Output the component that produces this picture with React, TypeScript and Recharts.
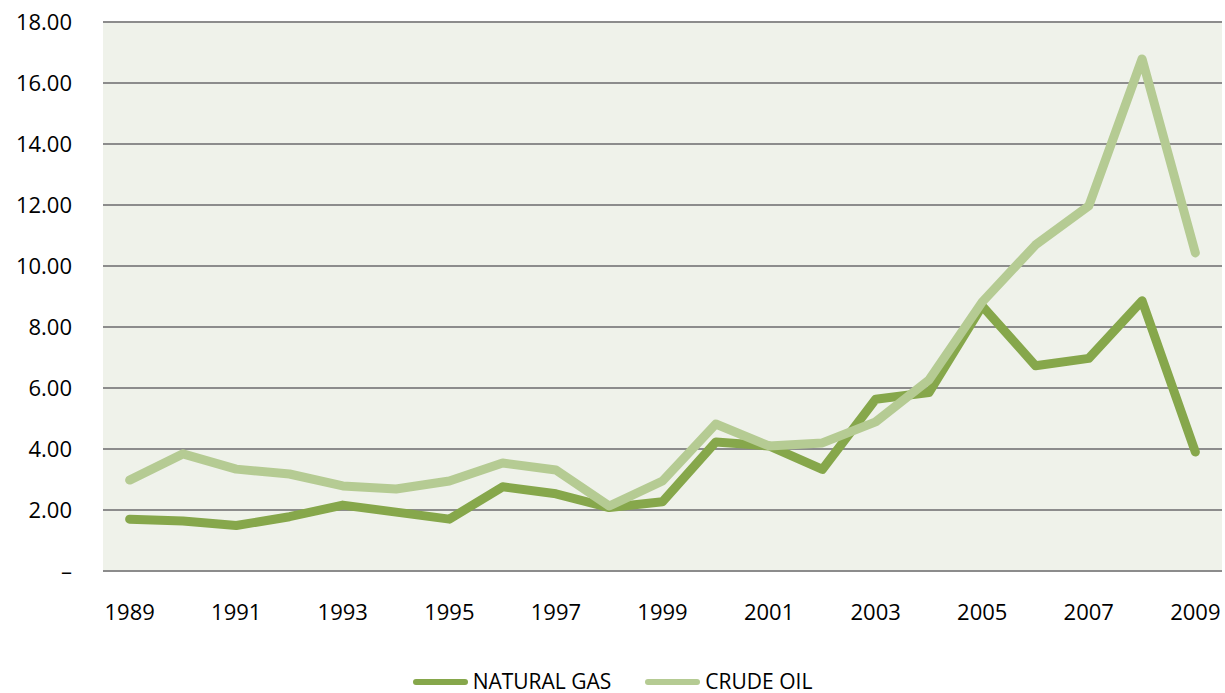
import { LineChart, Line, XAxis, YAxis, CartesianGrid, Legend } from 'recharts'

const years = [
  '1989', '1990', '1991', '1992', '1993', '1994', '1995', '1996', '1997', '1998', '1999',
  '2000', '2001', '2002', '2003', '2004', '2005', '2006', '2007', '2008', '2009',
]
const naturalGas = [
  1.7, 1.64, 1.49, 1.78, 2.16, 1.93, 1.7, 2.76, 2.53, 2.08, 2.27,
  4.23, 4.1, 3.33, 5.63, 5.85, 8.69, 6.73, 6.97, 8.86, 3.9,
]
const crudeOil = [
  2.98, 3.84, 3.34, 3.18, 2.79, 2.69, 2.95, 3.54, 3.31, 2.13, 2.95,
  4.82, 4.1, 4.2, 4.89, 6.26, 8.82, 10.69, 11.97, 16.79, 10.43,
]
const yTicks = [0, 2, 4, 6, 8, 10, 12, 14, 16, 18]

const GAS = '#86a74b'
const OIL = '#b5cb93'
const FONT = '"Open Sans", sans-serif'

const data = years.map((y, i) => ({ year: y, gas: naturalGas[i], oil: crudeOil[i] }))

function LegendBox() {
  const items = [
    { name: 'NATURAL GAS', color: GAS },
    { name: 'CRUDE OIL', color: OIL },
  ]
  return (
    <div style={{ display: 'flex', justifyContent: 'center', alignItems: 'center', height: 21, lineHeight: '21px', fontFamily: FONT, fontSize: 21, color: '#000' }}>
      {items.map((it) => (
        <div key={it.name} style={{ display: 'flex', alignItems: 'center', margin: '0 17px' }}>
          <div style={{ width: 55, height: 6, borderRadius: 3, background: it.color, marginRight: 5 }} />
          <span>{it.name}</span>
        </div>
      ))}
    </div>
  )
}

export default function App() {
  return (
    <div style={{ position: 'absolute', left: 0, top: 0, background: '#fff' }}>
      <LineChart width={1225} height={693} data={data} margin={{ top: 22, right: 3, bottom: 41, left: 0 }}>
        <CartesianGrid vertical={false} stroke="#8c8c8c" strokeWidth={2} fill="#eff2ea" />
        <XAxis
          dataKey="year"
          scale="band"
          interval={1}
          height={60}
          axisLine={false}
          tickLine={false}
          tickSize={0}
          tickMargin={33}
          tick={{ fill: '#000', fontSize: 22, fontFamily: FONT }}
        />
        <YAxis
          domain={[0, 18]}
          ticks={yTicks}
          width={103}
          axisLine={false}
          tickLine={false}
          tickSize={0}
          tickMargin={31}
          tickFormatter={(v: number) => (v === 0 ? '–' : v.toFixed(2))}
          tick={{ fill: '#000', fontSize: 22, fontFamily: FONT }}
        />
        <Legend
          verticalAlign="bottom"
          content={() => <LegendBox />}
          wrapperStyle={{ top: 671, left: 0, width: 1225, height: 21 }}
        />
        <Line type="linear" dataKey="gas" name="NATURAL GAS" stroke={GAS} strokeWidth={9} strokeLinecap="round" strokeLinejoin="round" dot={false} activeDot={false} isAnimationActive={false} />
        <Line type="linear" dataKey="oil" name="CRUDE OIL" stroke={OIL} strokeWidth={9} strokeLinecap="round" strokeLinejoin="round" dot={false} activeDot={false} isAnimationActive={false} />
      </LineChart>
    </div>
  )
}
